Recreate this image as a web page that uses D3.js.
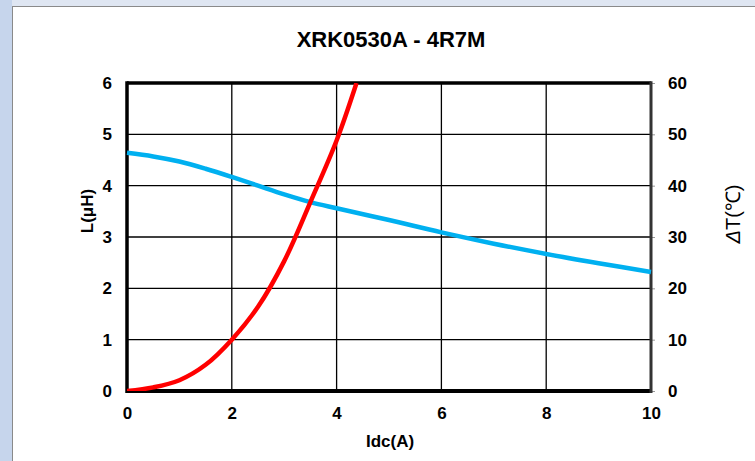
<!DOCTYPE html>
<html>
<head>
<meta charset="utf-8">
<script src="https://cdn.jsdelivr.net/npm/d3@7"></script>
<style>
	body { margin: 0; background: #ffffff; }
	text { font-family: "Liberation Sans", Arial, sans-serif; font-weight: bold; fill: #000; }
</style>
</head>
<body>
<div id="chart-area"></div>
<script>
// SVG Size
let width = 755,
	height = 461;

// Inductance curve L(uH) vs Idc(A)
let idcL = [0, 0.5, 1, 1.5, 2, 2.5, 3, 3.5, 4, 5, 6, 7, 8, 9, 10];
let inductance = [4.64, 4.57, 4.47, 4.33, 4.17, 4.0, 3.83, 3.68, 3.56, 3.33, 3.09, 2.87, 2.67, 2.49, 2.32];

// Temperature rise curve dT(C) vs Idc(A)
let idcT = [0, 0.5, 1, 1.5, 2, 2.5, 3, 3.5, 4, 4.38];
let tempRise = [0, 0.7, 2.1, 5.1, 10, 16.4, 25.3, 36.8, 48.8, 60];

let xTicks = [0, 2, 4, 6, 8, 10];
let leftTicks = [0, 1, 2, 3, 4, 5, 6];
let rightTicks = [0, 10, 20, 30, 40, 50, 60];

let title = "XRK0530A - 4R7M";

let plot = {left: 127, right: 651, top: 83, bottom: 391};

let svg = d3.select("#chart-area").append("svg")
	.attr("width", width)
	.attr("height", height);

// window frame
svg.append("rect").attr("x", 0).attr("y", 0).attr("width", width).attr("height", height).attr("fill", "#dfe6f2");
svg.append("rect").attr("x", 0).attr("y", 0).attr("width", 12).attr("height", height).attr("fill", "#c6d5ec");
svg.append("rect").attr("x", 12.5).attr("y", 6.5).attr("width", width).attr("height", height)
	.attr("fill", "#ffffff").attr("stroke", "#8a8a8a").attr("stroke-width", 1);

let xScale = d3.scaleLinear().domain([0, 10]).range([plot.left, plot.right]);
let yLeft = d3.scaleLinear().domain([0, 6]).range([plot.bottom, plot.top]);
let yRight = d3.scaleLinear().domain([0, 60]).range([plot.bottom, plot.top]);

// grid
svg.append("g").selectAll("line").data(xTicks.slice(1, -1)).enter().append("line")
	.attr("x1", d => xScale(d)).attr("x2", d => xScale(d))
	.attr("y1", plot.top).attr("y2", plot.bottom)
	.attr("stroke", "#000").attr("stroke-width", 1.3);
svg.append("g").selectAll("line").data(leftTicks.slice(1, -1)).enter().append("line")
	.attr("x1", plot.left).attr("x2", plot.right)
	.attr("y1", d => yLeft(d)).attr("y2", d => yLeft(d))
	.attr("stroke", "#000").attr("stroke-width", 1.3);

// axes
let xAxis = d3.axisBottom(xScale).tickValues(xTicks).tickFormat(d3.format("d")).tickSize(0).tickPadding(16);
let leftAxis = d3.axisLeft(yLeft).tickValues(leftTicks).tickFormat(d3.format("d")).tickSize(0).tickPadding(15);
let rightAxis = d3.axisRight(yRight).tickValues(rightTicks).tickFormat(d3.format("d")).tickSize(4).tickPadding(13);

let gx = svg.append("g").attr("transform", "translate(0," + plot.bottom + ")").call(xAxis);
let gl = svg.append("g").attr("transform", "translate(" + plot.left + ",0)").call(leftAxis);
let gr = svg.append("g").attr("transform", "translate(" + plot.right + ",0)").call(rightAxis);

[gx, gl, gr].forEach(g => {
	g.selectAll(".domain").remove();
	g.selectAll("text").style("font-size", "17px").style("font-family", "Liberation Sans, Arial, sans-serif")
		.style("font-weight", "bold").attr("fill", "#000");
});
gr.selectAll(".tick line").attr("stroke", "#999").attr("stroke-width", 1);
gr.selectAll("text").attr("x", 17);

// frame of plot
svg.append("line").attr("x1", plot.left).attr("x2", plot.right).attr("y1", plot.top).attr("y2", plot.top)
	.attr("stroke", "#000").attr("stroke-width", 3.5);
svg.append("line").attr("x1", plot.left).attr("x2", plot.right).attr("y1", plot.bottom).attr("y2", plot.bottom)
	.attr("stroke", "#000").attr("stroke-width", 4);
svg.append("line").attr("x1", plot.left).attr("x2", plot.left).attr("y1", plot.top - 1.7).attr("y2", plot.bottom + 2)
	.attr("stroke", "#000").attr("stroke-width", 3.5);
svg.append("line").attr("x1", plot.right).attr("x2", plot.right).attr("y1", plot.top - 1.7).attr("y2", plot.bottom + 2)
	.attr("stroke", "#333").attr("stroke-width", 3);

// curves
svg.append("clipPath").attr("id", "clip").append("rect")
	.attr("x", plot.left).attr("y", plot.top).attr("width", plot.right - plot.left + 2).attr("height", plot.bottom - plot.top);

let lineL = d3.line().x((d, i) => xScale(idcL[i])).y(d => yLeft(d)).curve(d3.curveCatmullRom.alpha(0.5));
let lineT = d3.line().x((d, i) => xScale(idcT[i])).y(d => yRight(d)).curve(d3.curveCatmullRom.alpha(0.5));

svg.append("path").datum(inductance).attr("d", lineL)
	.attr("fill", "none").attr("stroke", "#00b0f0").attr("stroke-width", 4.5);
svg.append("path").datum(tempRise).attr("d", lineT).attr("clip-path", "url(#clip)")
	.attr("fill", "none").attr("stroke", "#ff0000").attr("stroke-width", 4.5);

// titles
svg.append("text").attr("x", 391).attr("y", 47).attr("text-anchor", "middle")
	.style("font-size", "22px").text(title);
svg.append("text").attr("x", 390).attr("y", 447).attr("text-anchor", "middle")
	.style("font-size", "17px").text("Idc(A)");
svg.append("text").attr("transform", "translate(93,211) rotate(-90)").attr("text-anchor", "middle")
	.style("font-size", "17px").text("L(μH)");
let tl = svg.append("text").attr("transform", "translate(740,214) rotate(-90)").attr("text-anchor", "middle")
	.style("font-size", "20px").style("font-weight", "normal");
tl.append("tspan").style("font-style", "italic").text("Δ");
tl.append("tspan").text("T(℃)");
</script>
</body>
</html>
